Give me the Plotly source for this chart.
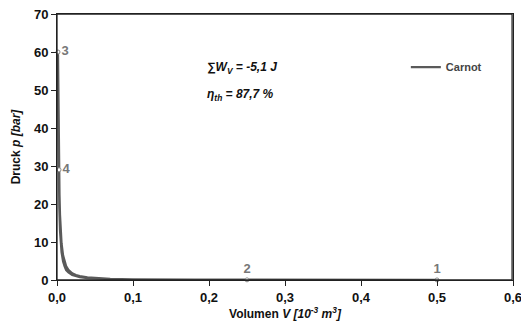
import plotly.graph_objects as go

# Isotherm 1 -> 2 (low temperature compression)
v_12 = [0.5, 0.45, 0.4, 0.35, 0.3, 0.25]
p_12 = [0.020, 0.022, 0.025, 0.028, 0.033, 0.040]

# Adiabat 2 -> 3 (compression)
v_23 = [0.25, 0.2, 0.15, 0.1, 0.07, 0.05, 0.04, 0.03, 0.025, 0.02, 0.015, 0.012, 0.01,
        0.008, 0.006, 0.005, 0.004, 0.003, 0.0025, 0.002, 0.00165, 0.00133]
p_23 = [0.04, 0.054, 0.08, 0.14, 0.23, 0.37, 0.51, 0.76, 1.0, 1.35, 2.02, 2.6, 3.56,
        4.87, 7.28, 9.5, 12.8, 19.2, 25.0, 33.9, 44.0, 60.0]

# Isotherm 3 -> 4 (high temperature expansion)
v_34 = [0.00133, 0.0016, 0.0019, 0.0022, 0.0027]
p_34 = [60.0, 49.9, 42.0, 36.3, 29.0]

# Adiabat 4 -> 1 (expansion)
v_41 = [0.0027, 0.0033, 0.004, 0.005, 0.006, 0.008, 0.01, 0.012, 0.015, 0.02, 0.025, 0.03,
        0.04, 0.05, 0.07, 0.1, 0.15, 0.2, 0.3, 0.4, 0.5]
p_41 = [29.0, 22.5, 17.1, 12.5, 9.68, 6.47, 4.73, 3.66, 2.68, 1.79, 1.31, 1.02,
        0.68, 0.50, 0.31, 0.19, 0.11, 0.071, 0.040, 0.027, 0.020]

# Characteristic points
point_labels = ["1", "2", "3", "4"]
point_v = [0.5, 0.25, 0.00133, 0.0027]
point_p = [0.020, 0.040, 60.0, 29.0]
point_textpos = ["top center", "top center", "middle right", "middle right"]

series_name = "Carnot"
work_text = "<i>∑W<sub>V</sub> = -5,1 J</i>"
eta_text = "<i>η<sub>th</sub> = 87,7 %</i>"

x_ticks = [0.0, 0.1, 0.2, 0.3, 0.4, 0.5, 0.6]
y_ticks = [0, 10, 20, 30, 40, 50, 60, 70]

cycle_v = v_12 + v_23[1:] + v_34[1:] + v_41[1:]
cycle_p = p_12 + p_23[1:] + p_34[1:] + p_41[1:]

FAM = "Liberation Sans, Arial, sans-serif"

fig = go.Figure()
fig.add_trace(go.Scatter(
    x=cycle_v, y=cycle_p, mode="lines", name=series_name,
    line=dict(color="#5a5a5a", width=2.2), cliponaxis=False,
))
fig.add_trace(go.Scatter(
    x=point_v, y=point_p, mode="markers+text", text=point_labels,
    textposition=point_textpos, showlegend=False, cliponaxis=False,
    marker=dict(size=4, color="white", line=dict(color="#8a8a8a", width=1)),
    textfont=dict(family=FAM, size=13, color="#777777", weight="bold"),
))

fig.add_annotation(x=0.325, y=0.797, xref="paper", yref="paper", xanchor="left",
                   yanchor="middle", showarrow=False, text=work_text,
                   font=dict(family=FAM, size=12, color="#111", weight="bold"))
fig.add_annotation(x=0.325, y=0.695, xref="paper", yref="paper", xanchor="left",
                   yanchor="middle", showarrow=False, text=eta_text,
                   font=dict(family=FAM, size=12, color="#111", weight="bold"))

# plot-area frame (top and right borders)
fig.add_shape(type="rect", xref="paper", yref="paper", x0=0, x1=0.998, y0=0, y1=1,
              line=dict(color="#222", width=1.3), layer="above")

tick_font = dict(family=FAM, size=13, color="#111", weight="bold")
title_font = dict(family=FAM, size=12, color="#111", weight="bold")

fig.update_layout(
    width=521, height=328,
    margin=dict(l=57, r=8, t=14, b=48),
    plot_bgcolor="white", paper_bgcolor="white",
    separators=",.",
    legend=dict(x=0.765, y=0.80, xanchor="left", yanchor="middle",
                bgcolor="rgba(0,0,0,0)",
                font=dict(family=FAM, size=11, color="#444", weight="bold"),
                itemwidth=30),
    xaxis=dict(range=[0, 0.6], tickvals=x_ticks, tickformat=".1f", automargin=False,
               ticklabeloverflow="allow",
               showgrid=False, zeroline=False, showline=True, linecolor="#222",
               linewidth=1, mirror=True, ticks="outside", ticklen=5, tickcolor="#222",
               tickfont=tick_font,
               title=dict(text="Volumen <i>V [10<sup>-3</sup> m<sup>3</sup>]</i>",
                          standoff=6, font=title_font)),
    yaxis=dict(range=[0, 70], tickvals=y_ticks, automargin=False,
               ticklabeloverflow="allow",
               showgrid=False, zeroline=False, showline=True, linecolor="#222",
               linewidth=1, mirror=True, ticks="outside", ticklen=5, tickcolor="#222",
               tickfont=tick_font,
               title=dict(text="Druck <i>p [bar]</i>", standoff=10, font=title_font)),
)

fig.write_html("out.html",
               config={"displayModeBar": False},
               post_script=("document.documentElement.style.overflow='hidden';"
                            "document.body.style.margin='0';"))
